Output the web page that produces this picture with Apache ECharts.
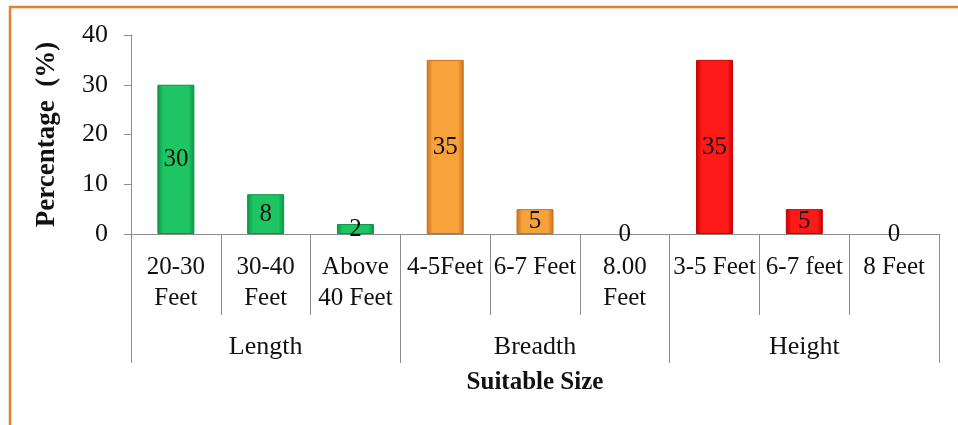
<!DOCTYPE html>
<html>
<head>
<meta charset="utf-8">
<title>Suitable Size</title>
<script src="https://cdn.jsdelivr.net/npm/echarts@6/dist/echarts.min.js"></script>
<style>
  html, body { margin: 0; padding: 0; background: #ffffff; }
  #chart { width: 958px; height: 425px; }
</style>
</head>
<body>
<div id="chart"></div>
<script>
// Sub-categories shown on the first axis row
var categories = ['20-30\nFeet', '30-40\nFeet', 'Above\n40 Feet', '4-5Feet', '6-7 Feet', '8.00\nFeet', '3-5 Feet', '6-7 feet', '8 Feet'];
// Percentage of respondents per size option
var values = [30, 8, 2, 35, 5, 0, 35, 5, 0];
// Dimension groups on the second axis row
var groups = ['Length', 'Breadth', 'Height'];
// Which group each category belongs to
var groupOf = [0, 0, 0, 1, 1, 1, 2, 2, 2];
// y-axis ticks
var yTicks = [0, 10, 20, 30, 40];

// Bar shading per group: [edge, centre]
var groupShades = [
  ['#0b9445', '#1ec562'],
  ['#c8711c', '#f8a23c'],
  ['#c40000', '#ff1a1a']
];

function barFill(g) {
  var s = groupShades[g];
  return new echarts.graphic.LinearGradient(0, 0, 1, 0, [
    { offset: 0, color: s[0] },
    { offset: 0.16, color: s[1] },
    { offset: 0.84, color: s[1] },
    { offset: 1, color: s[0] }
  ]);
}

var seriesData = values.map(function (v, i) {
  var g = groupOf[i];
  return {
    value: v,
    itemStyle: {
      color: barFill(g),
      borderColor: groupShades[g][0],
      borderWidth: v > 0 ? 1 : 0
    }
  };
});

var serif = '"Liberation Serif", "Times New Roman", serif';
var axisGray = '#8c8c8c';

var chart = echarts.init(document.getElementById('chart'), null, { renderer: 'canvas' });
chart.setOption({
  backgroundColor: '#ffffff',
  animation: false,
  grid: { left: 131, right: 19, top: 35, bottom: 191, containLabel: false },
  xAxis: [
    {
      type: 'category',
      data: categories,
      position: 'bottom',
      offset: 0,
      axisLine: { show: true, lineStyle: { color: axisGray, width: 1 } },
      axisTick: { show: true, interval: 0, length: 81, lineStyle: { color: axisGray, width: 1 } },
      axisLabel: {
        interval: 0, margin: 18, color: '#111', fontFamily: serif, fontSize: 25, lineHeight: 31
      }
    },
    {
      type: 'category',
      data: groups,
      position: 'bottom',
      offset: 0,
      axisLine: { show: false },
      axisTick: { show: true, interval: 0, length: 129, lineStyle: { color: axisGray, width: 1 } },
      axisLabel: {
        interval: 0, margin: 100, color: '#111', fontFamily: serif, fontSize: 26, lineHeight: 26
      },
      name: 'Suitable Size',
      nameLocation: 'middle',
      nameGap: 136,
      nameTextStyle: { color: '#111', fontFamily: serif, fontSize: 25, fontWeight: 'bold', lineHeight: 25 }
    }
  ],
  yAxis: {
    type: 'value',
    min: yTicks[0],
    max: yTicks[yTicks.length - 1],
    interval: yTicks[1] - yTicks[0],
    axisLine: { show: true, lineStyle: { color: axisGray, width: 1 } },
    axisTick: { show: true, length: 7, lineStyle: { color: axisGray } },
    splitLine: { show: false },
    axisLabel: { margin: 23, color: '#111', fontFamily: serif, fontSize: 26 },
    name: 'Percentage  (%)',
    nameLocation: 'middle',
    nameGap: 70,
    nameTextStyle: { color: '#111', fontFamily: serif, fontSize: 27, fontWeight: 'bold' }
  },
  series: [
    {
      type: 'bar',
      xAxisIndex: 0,
      data: seriesData,
      barWidth: 37,
      label: {
        show: true,
        position: 'inside',
        color: '#111',
        fontFamily: serif,
        fontSize: 25
      }
    }
  ],
  graphic: [
    {
      type: 'polyline',
      shape: { points: [[10, 425], [10, 7], [960, 7]] },
      style: { stroke: '#e8802a', lineWidth: 2.5, fill: null },
      silent: true
    }
  ]
});
</script>
</body>
</html>
